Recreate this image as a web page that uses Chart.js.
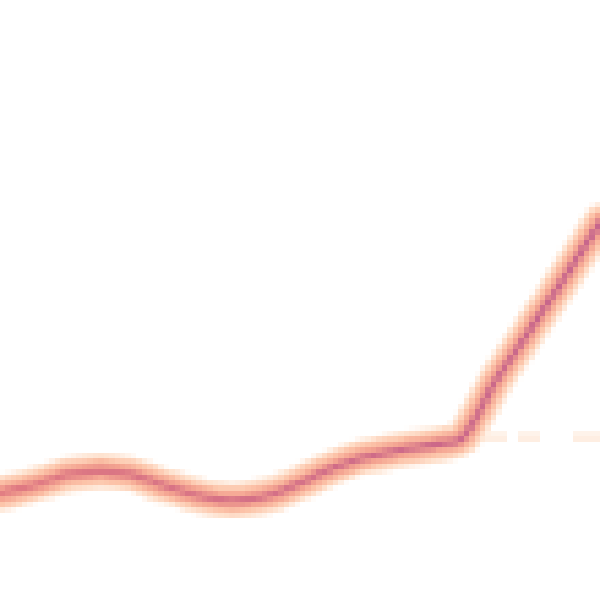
<!DOCTYPE html>
<html>
<head>
<meta charset="utf-8">
<script src="https://cdn.jsdelivr.net/npm/chart.js@4"></script>
<style>
  html, body { margin: 0; padding: 0; background: #fff; overflow: hidden; }
  #offscreen { position: absolute; left: -9999px; top: 0; }
  #big { position: absolute; left: 0; top: 0; display: block; }
</style>
</head>
<body>
<div id="offscreen"><canvas id="small" width="110" height="110"></canvas></div>
<canvas id="big" width="600" height="600"></canvas>
<script>
// values (x and y both on a 0..100 scale)
const xValues = [-2, 3.3, 7.5, 11.7, 16.7, 21.7, 26.7, 31.7, 36.7, 40.8, 45.8, 50, 55, 60, 66.7, 73.3, 77, 82.5, 88.3, 93.3, 100, 103];
const yValues = [17.3, 18.5, 19.7, 21, 21.5, 21, 19.3, 17.7, 16.7, 16.7, 17.7, 19.5, 21.8, 23.7, 25, 26, 27, 36.3, 45, 52.5, 63, 67.5];
const baseX = [80, 100];
const baseY = [27.2, 27.2];

const pts = xValues.map((x, i) => ({ x, y: yValues[i] }));
const basePts = baseX.map((x, i) => ({ x, y: baseY[i] }));

function centerGradient(ctx) {
  const area = ctx.chart.chartArea;
  if (!area) return '#d06a86';
  const g = ctx.chart.ctx.createLinearGradient(area.left, 0, area.right, 0);
  g.addColorStop(0, '#e07a82');
  g.addColorStop(1, '#c4628c');
  return g;
}

const glow = (w, c, order) => ({
  data: pts, borderColor: c, borderWidth: w, order,
  pointRadius: 0, tension: 0.3, fill: false, borderCapStyle: 'round', borderJoinStyle: 'round'
});

// the reference is a blown-up low-res crop: draw small, then scale up without smoothing
const upscale = {
  id: 'upscale',
  afterRender(chart) {
    const big = document.getElementById('big').getContext('2d');
    big.imageSmoothingEnabled = false;
    big.fillStyle = '#fff';
    big.fillRect(0, 0, 600, 600);
    big.drawImage(chart.canvas, 0, 0, 600, 600);
  }
};

new Chart(document.getElementById('small'), {
  type: 'line',
  data: {
    datasets: [
      glow(1.1, centerGradient, 0),
      glow(3, '#f3a290', 1),
      glow(4.8, '#fcc3a8', 2),
      glow(6.6, '#fee3d0', 3),
      { data: basePts, borderColor: '#fde2cd', borderWidth: 1, borderDash: [5, 2, 4, 6], pointRadius: 0, tension: 0, order: 4 }
    ]
  },
  options: {
    responsive: false, animation: false, devicePixelRatio: 1,
    layout: { padding: 0 },
    plugins: { legend: { display: false }, tooltip: { enabled: false } },
    scales: {
      x: { type: 'linear', min: 0, max: 100, display: false },
      y: { min: 0, max: 100, display: false }
    }
  },
  plugins: [upscale]
});
</script>
</body>
</html>
